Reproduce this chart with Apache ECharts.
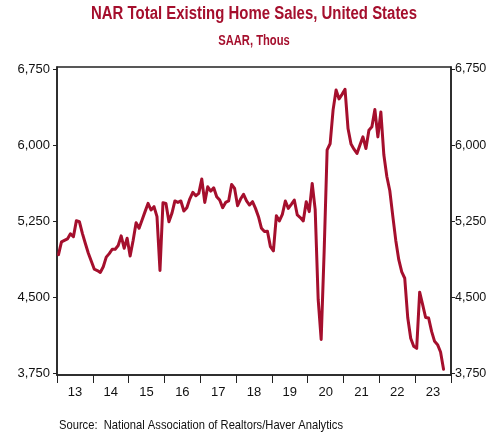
<!DOCTYPE html>
<html>
<head>
<meta charset="utf-8">
<script src="https://cdn.jsdelivr.net/npm/echarts@6/dist/echarts.min.js"></script>
<style>
html,body{margin:0;padding:0;background:#fff;}
#chart{width:487px;height:435px;}
</style>
</head>
<body>
<div id="chart"></div>
<script>
// Monthly SAAR, thousands (Jan..Dec)
var values2013 = [4920, 5045, 5060, 5075, 5125, 5097, 5255, 5245, 5130, 5030, 4934, 4855];
var values2014 = [4776, 4763, 4744, 4800, 4895, 4930, 4973, 4973, 5010, 5105, 4983, 5081];
var values2015 = [4907, 5060, 5235, 5180, 5262, 5344, 5425, 5360, 5393, 5294, 4763, 5432];
var values2016 = [5425, 5245, 5327, 5449, 5435, 5449, 5350, 5383, 5470, 5534, 5501, 5524];
var values2017 = [5665, 5435, 5589, 5546, 5579, 5491, 5458, 5383, 5435, 5449, 5612, 5573];
var values2018 = [5402, 5468, 5514, 5449, 5409, 5442, 5376, 5294, 5179, 5147, 5150, 4999];
var values2019 = [4957, 5304, 5252, 5317, 5449, 5376, 5416, 5458, 5311, 5285, 5252, 5442];
var values2020 = [5344, 5622, 5363, 4478, 4084, 4950, 5953, 6013, 6347, 6543, 6455, 6500];
var values2021 = [6550, 6163, 6010, 5960, 5917, 6000, 6081, 5966, 6147, 6180, 6350, 6081];
var values2022 = [6327, 5904, 5690, 5550, 5300, 5060, 4870, 4750, 4687, 4300, 4095, 4016];
var values2023 = [3996, 4550, 4427, 4300, 4295, 4163, 4065, 4032, 3960, 3790];

var yearLabels = ['13','14','15','16','17','18','19','20','21','22','23'];
var yTicks = [3750, 4500, 5250, 6000, 6750];

var titleText = 'NAR Total Existing Home Sales, United States';
var subtitleText = 'SAAR, Thous';
var sourceText = 'Source:  National Association of Realtors/Haver Analytics';

var allYears = [values2013, values2014, values2015, values2016, values2017, values2018,
                values2019, values2020, values2021, values2022, values2023];
var seriesData = [];
allYears.forEach(function (arr, yi) {
  arr.forEach(function (v, mi) {
    // x = month index, plotted at mid-month
    seriesData.push([yi * 12 + mi + 0.5, v]);
  });
});
var yearTickPos = yearLabels.map(function (_, i) { return i * 12; }).concat([yearLabels.length * 12]);
var yearLabelPos = yearLabels.map(function (_, i) { return i * 12 + 6; });

var FONT = "'Liberation Sans', Arial, sans-serif";
var RED = '#a50f2d';

var chart = echarts.init(document.getElementById('chart'), null, {renderer: 'canvas'});
var yAxisCommon = {
  type: 'value',
  min: 3733,
  max: 6770,
  splitLine: {show: false},
  axisLine: {show: true, lineStyle: {color: '#222', width: 1.5}},
  axisTick: {show: true, inside: false, length: 4, customValues: yTicks, lineStyle: {color: '#222', width: 1}},
  axisLabel: {
    customValues: yTicks,
    fontFamily: FONT, fontSize: 13, color: '#111',
    formatter: function (v) { return v.toLocaleString('en-US'); }
  }
};
chart.setOption({
  animation: false,
  backgroundColor: '#fff',
  graphic: [
    {type: 'text', x: 254, y: 14, scaleX: 0.83,
     style: {text: titleText, fill: RED, font: "bold 18px 'Liberation Sans', Arial, sans-serif", textAlign: 'center', textVerticalAlign: 'middle'}},
    {type: 'text', x: 254, y: 41, scaleX: 0.8,
     style: {text: subtitleText, fill: RED, font: "bold 14px 'Liberation Sans', Arial, sans-serif", textAlign: 'center', textVerticalAlign: 'middle'}},
    {type: 'text', x: 59, y: 425, scaleX: 0.86,
     style: {text: sourceText, fill: '#111', font: "13px 'Liberation Sans', Arial, sans-serif", textAlign: 'left', textVerticalAlign: 'middle'}}
  ],
  grid: {left: 57, right: 36, top: 67, bottom: 60, outerBoundsMode: 'none', containLabel: false,
         show: true, borderColor: '#222', borderWidth: 1.5, backgroundColor: 'transparent'},
  xAxis: {
    type: 'value',
    min: 0,
    max: 132,
    splitLine: {show: false},
    axisLine: {show: true, lineStyle: {color: '#222', width: 1.5}},
    axisTick: {show: true, inside: false, length: 8, customValues: yearTickPos, lineStyle: {color: '#222', width: 1}},
    axisLabel: {
      customValues: yearLabelPos,
      margin: 11,
      fontFamily: FONT, fontSize: 13, color: '#111',
      formatter: function (v) { return yearLabels[Math.round((v - 6) / 12)]; }
    }
  },
  yAxis: [
    Object.assign({}, yAxisCommon, {position: 'left', axisLabel: Object.assign({}, yAxisCommon.axisLabel, {margin: 7})}),
    Object.assign({}, yAxisCommon, {position: 'right', axisLabel: Object.assign({}, yAxisCommon.axisLabel, {margin: 4, fontSize: 12.5})})
  ],
  series: [{
    type: 'line',
    data: seriesData,
    showSymbol: false,
    symbol: 'none',
    lineStyle: {color: RED, width: 3, join: 'round', cap: 'round'},
    itemStyle: {color: RED}
  }]
});
</script>
</body>
</html>
